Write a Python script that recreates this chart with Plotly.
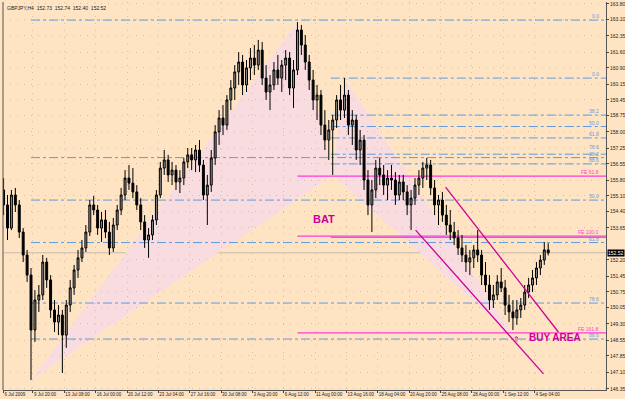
import plotly.graph_objects as go

# ---------------- data (GBPJPY H4, aggregated into 8h candles) ----------------
opens = [155.37, 154.69, 153.64, 155.14, 154.69, 153.46, 152.42, 151.51, 149.02, 150.38,
         150.61, 152.10, 151.29, 149.93, 149.38, 149.70, 148.79, 150.15, 150.93, 151.74,
         152.29, 152.74, 153.46, 154.69, 154.46, 153.64, 154.01, 153.46, 152.74, 153.78,
         154.46, 155.14, 155.91, 155.68, 155.28, 154.69, 153.92, 153.10, 153.33, 154.01,
         155.14, 156.36, 156.73, 156.05, 156.27, 155.73, 155.91, 156.64, 156.96, 156.73,
         157.18, 156.50, 155.14, 155.59, 156.82, 158.00, 158.63, 158.31, 159.45, 159.99,
         160.72, 161.17, 160.13, 160.90, 161.35, 161.03, 161.71, 160.44, 159.81, 160.13,
         160.81, 160.44, 161.03, 161.35, 159.99, 160.81, 162.62, 161.94, 161.17, 160.35,
         159.45, 159.67, 158.31, 157.63, 158.09, 158.54, 159.45, 158.99, 159.67, 158.31,
         158.54, 157.18, 157.63, 155.82, 154.69, 155.37, 156.36, 156.05, 155.59, 155.91,
         155.82, 155.14, 155.73, 155.28, 154.69, 155.00, 155.59, 155.91, 156.36, 156.50,
         155.46, 154.69, 154.91, 154.23, 153.78, 153.46, 153.19, 152.74, 152.42, 152.10,
         152.29, 152.65, 152.42, 151.51, 151.06, 150.38, 150.61, 151.20, 150.93, 150.15,
         149.84, 149.57, 149.93, 150.15, 150.74, 151.06, 151.38, 151.83, 152.19, 152.65]
highs = [155.91, 155.14, 155.37, 155.46, 154.91, 153.64, 152.65, 151.83, 150.83, 151.06,
         152.42, 152.29, 151.51, 150.38, 150.15, 149.93, 150.38, 151.29, 151.97, 152.65,
         153.10, 153.78, 154.91, 155.10, 154.69, 154.37, 154.46, 153.92, 154.10, 154.69,
         155.46, 156.27, 156.50, 156.36, 155.59, 155.00, 154.23, 153.64, 154.23, 155.37,
         156.64, 157.18, 156.96, 156.64, 156.50, 156.27, 156.82, 157.27, 157.27, 157.41,
         157.63, 156.73, 156.05, 157.18, 158.31, 158.99, 159.22, 159.67, 160.35, 161.03,
         161.62, 161.49, 161.26, 161.80, 161.94, 162.17, 162.08, 161.03, 160.58, 161.17,
         161.49, 161.26, 161.71, 161.62, 161.26, 162.98, 162.85, 162.39, 161.49, 160.81,
         160.13, 159.90, 158.99, 158.54, 158.77, 159.67, 160.13, 160.44, 159.90, 158.99,
         158.77, 158.09, 157.86, 156.27, 155.82, 156.73, 156.82, 156.50, 156.27, 156.50,
         156.18, 156.05, 156.05, 155.59, 155.37, 155.91, 156.27, 156.64, 156.82, 156.73,
         155.82, 155.14, 155.28, 154.69, 154.46, 153.92, 153.55, 153.33, 152.87, 152.65,
         152.87, 153.55, 152.65, 152.10, 151.51, 151.06, 151.51, 151.83, 151.29, 150.61,
         150.38, 150.38, 150.47, 151.06, 151.38, 151.74, 152.10, 152.42, 153.01, 152.95]
lows = [154.23, 153.10, 153.55, 154.37, 153.19, 152.10, 151.20, 146.75, 148.48, 149.84,
        150.38, 150.93, 149.57, 148.93, 148.79, 147.07, 148.21, 149.84, 150.61, 151.38,
        152.10, 152.56, 153.28, 154.23, 153.33, 153.01, 153.19, 152.42, 152.56, 153.55,
        154.23, 154.91, 155.37, 155.00, 154.46, 153.55, 152.74, 152.29, 153.10, 153.78,
        155.00, 156.05, 155.73, 155.59, 155.37, 155.23, 155.59, 156.36, 156.27, 156.18,
        156.18, 154.91, 153.78, 155.28, 156.50, 157.41, 157.86, 158.09, 158.99, 159.45,
        160.13, 159.67, 159.81, 160.35, 160.58, 160.81, 160.13, 159.45, 158.99, 159.90,
        160.13, 159.81, 160.35, 159.67, 159.08, 160.58, 161.49, 160.81, 159.90, 158.99,
        158.54, 157.86, 157.18, 156.73, 156.05, 158.18, 158.54, 158.63, 157.86, 157.41,
        156.73, 156.50, 155.37, 154.23, 153.46, 155.00, 155.59, 155.14, 154.91, 155.37,
        154.69, 154.91, 154.91, 154.23, 153.55, 154.69, 155.14, 155.46, 155.82, 155.14,
        154.23, 153.78, 153.92, 153.33, 153.10, 152.87, 152.42, 152.10, 151.65, 151.51,
        151.83, 152.10, 151.06, 150.74, 149.93, 150.02, 150.38, 150.74, 149.70, 149.38,
        149.02, 149.25, 149.57, 149.93, 150.47, 150.74, 151.06, 151.51, 151.97, 152.40]
closes = [154.69, 153.64, 155.14, 154.69, 153.46, 152.42, 151.51, 149.02, 150.38, 150.61,
          152.10, 151.29, 149.93, 149.38, 149.70, 148.79, 150.15, 150.93, 151.74, 152.29,
          152.74, 153.46, 154.69, 154.46, 153.64, 154.01, 153.46, 152.74, 153.78, 154.46,
          155.14, 155.91, 155.68, 155.28, 154.69, 153.92, 153.10, 153.33, 154.01, 155.14,
          156.36, 156.73, 156.05, 156.27, 155.73, 155.91, 156.64, 156.96, 156.73, 157.18,
          156.50, 155.14, 155.59, 156.82, 158.00, 158.63, 158.31, 159.45, 159.99, 160.72,
          161.17, 160.13, 160.90, 161.35, 161.03, 161.71, 160.44, 159.81, 160.13, 160.81,
          160.44, 161.03, 161.35, 159.99, 160.81, 162.62, 161.94, 161.17, 160.35, 159.45,
          159.67, 158.31, 157.63, 158.09, 158.54, 159.45, 158.99, 159.67, 158.31, 158.54,
          157.18, 157.63, 155.82, 154.69, 155.37, 156.36, 156.05, 155.59, 155.91, 155.82,
          155.14, 155.73, 155.28, 154.69, 155.00, 155.59, 155.91, 156.36, 156.50, 155.46,
          154.69, 154.91, 154.23, 153.78, 153.46, 153.19, 152.74, 152.42, 152.10, 152.29,
          152.65, 152.42, 151.51, 151.06, 150.38, 150.61, 151.20, 150.93, 150.15, 149.84,
          149.57, 149.93, 150.15, 150.74, 151.06, 151.38, 151.83, 152.19, 152.65, 152.52]
bar_index = list(range(0, 2 * len(closes), 2))   # position in H4 bars

x_tick_bars = [0, 15, 31, 47, 63, 79, 95, 111, 127, 143, 159, 175, 191, 207, 223, 239, 255, 271]
x_tick_labels = ["6 Jul 2009", "9 Jul 20:00", "13 Jul 08:00", "16 Jul 00:00", "20 Jul 12:00",
                 "23 Jul 04:00", "27 Jul 16:00", "30 Jul 08:00", "3 Aug 20:00", "6 Aug 12:00",
                 "11 Aug 00:00", "13 Aug 16:00", "18 Aug 04:00", "20 Aug 20:00", "25 Aug 08:00",
                 "28 Aug 00:00", "1 Sep 12:00", "4 Sep 04:00"]
y_tick_vals = [163.80, 163.10, 162.35, 161.60, 160.90, 160.15, 159.45, 158.75, 158.00, 157.25,
               156.55, 155.80, 155.10, 154.40, 153.65, 152.20, 151.45, 150.75, 150.05, 149.30,
               148.55, 147.85, 147.10, 146.35]

title_text = "GBPJPY,H4  152.73  152.74  152.40  152.52"
last_price = 152.52

# Bat pattern pivots: X, A, B, C, D  (bar index, price)
pivot_bars = [14, 150, 168, 174, 262]
pivot_prices = [146.75, 162.98, 156.05, 160.44, 148.57]

fib_levels = [0.0, 38.2, 50.0, 61.8, 78.6, 88.6]
xa_fib = {"start": 14, "high": 163.07, "low": 146.75}
bc_fib = {"start": 167, "high": 160.44, "low": 156.05}
fe_levels = ["FE 61.8", "FE 100.0", "FE 161.8"]
fe_prices = [156.00, 153.28, 148.89]
fe_start = 150
purple_line = {"start": 167, "price": 153.22}

channel_upper = {"bars": [225.6, 283.2], "prices": [155.50, 148.93]}
channel_lower = {"bars": [210.3, 275.6], "prices": [153.55, 147.03]}

X_MIN, X_MAX = -0.3, 307.5
Y_MIN, Y_MAX = 146.30, 163.89
LABEL_BAR = 304.9

BG = "#FFE4C4"
FIB_BLUE = "#5E9BE0"
FE_PINK = "#FF3CD2"
MAGENTA = "#CC0099"
FONT = "Liberation Sans"

fig = go.Figure()

fig.add_trace(go.Candlestick(
    x=bar_index, open=opens, high=highs, low=lows, close=closes,
    increasing=dict(line=dict(color="#000000", width=1), fillcolor="#8F8F8F"),
    decreasing=dict(line=dict(color="#000000", width=1), fillcolor="#000000"),
    whiskerwidth=0, showlegend=False, hoverinfo="skip"))

shapes = []
annotations = []

# harmonic triangles
X, A, B, C, D = list(zip(pivot_bars, pivot_prices))
for tri in [(X, A, B), (B, C, D)]:
    path = "M {},{} L {},{} L {},{} Z".format(tri[0][0], tri[0][1], tri[1][0], tri[1][1],
                                               tri[2][0], tri[2][1])
    shapes.append(dict(type="path", path=path, xref="x", yref="y", layer="below",
                       fillcolor="#F9DCE0", line=dict(width=0)))

def hline(x0, price, color, dash, width=1):
    shapes.append(dict(type="line", xref="x", yref="y", x0=x0, x1=X_MAX, y0=price, y1=price,
                       layer="below", line=dict(color=color, width=width, dash=dash)))

def label(price, text, color, shift=-1):
    annotations.append(dict(x=LABEL_BAR, y=price, xref="x", yref="y", text=text,
                            showarrow=False, xanchor="right", yanchor="bottom", yshift=shift,
                            font=dict(family=FONT, size=5, color=color)))

# small vertical nudges so that crowded level texts stay readable
label_shift = {("bc", 78.6): 2}
for tag, fib in (("xa", xa_fib), ("bc", bc_fib)):
    for lv in fib_levels:
        price = fib["high"] - (fib["high"] - fib["low"]) * lv / 100.0
        hline(fib["start"], price, FIB_BLUE, "dashdot")
        label(price, "{:.1f}".format(lv), FIB_BLUE, label_shift.get((tag, lv), -1))

for name, price in zip(fe_levels, fe_prices):
    hline(fe_start, price, FE_PINK, "solid", 1.2)
    label(price, name, FE_PINK)

hline(purple_line["start"], purple_line["price"], "#8C6BE8", "solid", 1)

# current price line
shapes.append(dict(type="line", xref="paper", yref="y", x0=0, x1=1, y0=last_price, y1=last_price,
                   layer="below", line=dict(color="#C8B8A8", width=1)))

for ch in (channel_upper, channel_lower):
    shapes.append(dict(type="line", xref="x", yref="y", x0=ch["bars"][0], x1=ch["bars"][1],
                       y0=ch["prices"][0], y1=ch["prices"][1],
                       line=dict(color=MAGENTA, width=1.3)))

annotations.append(dict(x=163.4, y=154.05, xref="x", yref="y", text="<b>BAT</b>", showarrow=False,
                        font=dict(family=FONT, size=11, color=MAGENTA)))
annotations.append(dict(x=281.7, y=148.66, xref="x", yref="y", text="<b>BUY AREA</b>",
                        showarrow=False, font=dict(family=FONT, size=10, color=MAGENTA)))
annotations.append(dict(x=D[0], y=D[1], xref="x", yref="y", text="⇑", showarrow=False,
                        font=dict(family=FONT, size=8, color=MAGENTA)))

annotations.append(dict(x=0, y=1, xref="paper", yref="paper", text=title_text, showarrow=False,
                        xanchor="left", yanchor="top", xshift=2, yshift=-1,
                        font=dict(family=FONT, size=5, color="#222222")))
annotations.append(dict(x=1, y=last_price, xref="paper", yref="y", text="152.52", showarrow=False,
                        xanchor="left", xshift=1, bgcolor="#000000", borderpad=0,
                        font=dict(family=FONT, size=5, color="#FFFFFF")))

fig.update_layout(
    width=625, height=399,
    margin=dict(l=3, r=19, t=2, b=9, autoexpand=False),
    paper_bgcolor=BG, plot_bgcolor=BG,
    shapes=shapes, annotations=annotations,
    showlegend=False,
    xaxis=dict(range=[X_MIN, X_MAX], tickvals=x_tick_bars, ticktext=x_tick_labels,
               tickangle=0, automargin=False,
               ticklabelposition="outside right", ticks="outside", ticklen=2, tickcolor="#444",
               tickfont=dict(family=FONT, size=4.5, color="#222"),
               showline=True, linecolor="#555555", linewidth=1,
               showgrid=True, gridcolor="rgba(150,130,100,0.35)", griddash="1px,6px",
               zeroline=False, rangeslider=dict(visible=False), fixedrange=True),
    yaxis=dict(range=[Y_MIN, Y_MAX], side="right", tickvals=y_tick_vals, automargin=False,
               ticktext=["{:.2f}".format(v) for v in y_tick_vals],
               ticks="outside", ticklen=2, tickcolor="#444",
               tickfont=dict(family=FONT, size=5, color="#222"),
               showline=True, linecolor="#555555", linewidth=1,
               showgrid=True, gridcolor="rgba(150,130,100,0.35)", griddash="1px,6px",
               zeroline=False, fixedrange=True),
)
# left border
fig.add_shape(type="line", xref="paper", yref="paper", x0=0, x1=0, y0=0, y1=1,
              line=dict(color="#555555", width=1))

fig.write_html("out.html")
